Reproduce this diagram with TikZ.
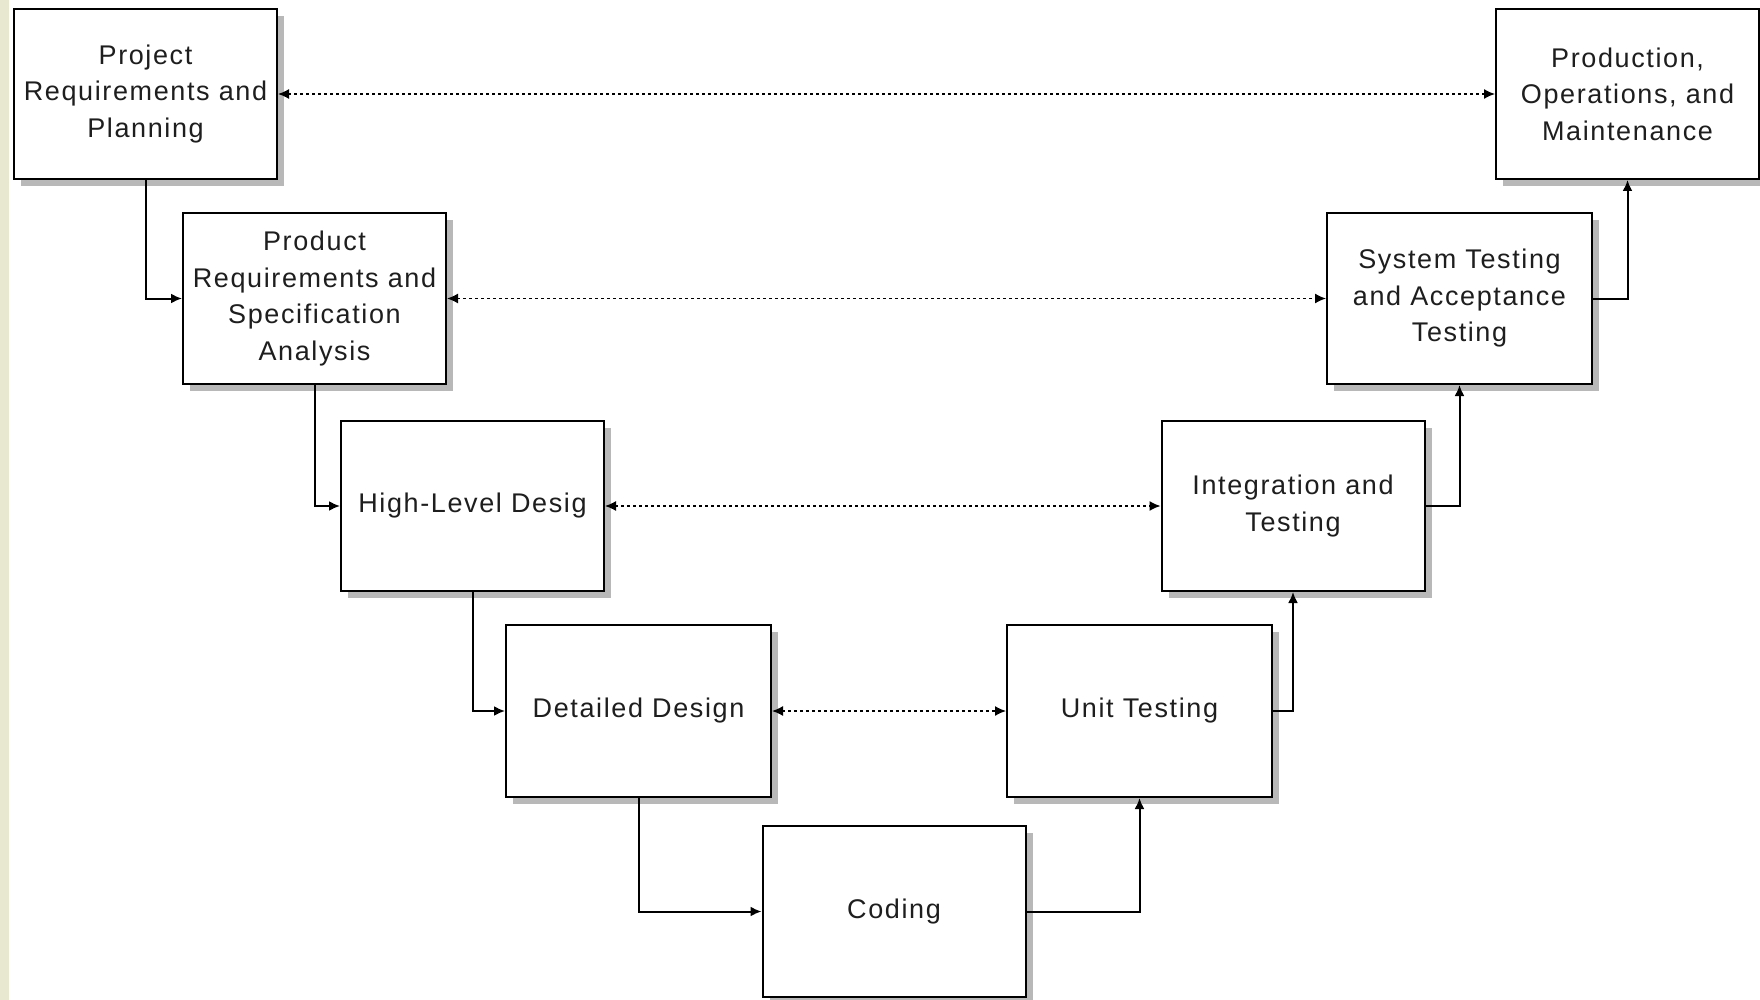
\documentclass[tikz,border=0pt]{standalone}
\usepackage{fontspec}
\setmainfont{Liberation Sans}[LetterSpace=6.0]
\usetikzlibrary{arrows.meta,shadows}
\definecolor{stripcol}{RGB}{232,232,208}
\definecolor{shadowcol}{RGB}{184,184,184}
\definecolor{textcol}{RGB}{30,30,30}
\begin{document}
\begin{tikzpicture}[x=1pt,y=-1pt,
  phase/.style={draw=black, line width=2pt, fill=white, minimum width=263pt, minimum height=170pt,
    inner sep=0pt, align=center, text=textcol, font=\fontsize{27}{36.5}\selectfont,
    drop shadow={shadow xshift=7pt, shadow yshift=-7pt, fill=shadowcol, draw=none, opacity=1}},
  flow/.style={line width=2pt, -{Latex[length=11pt,width=10pt]}},
  link/.style={line width=1.4pt, dash pattern=on 3pt off 3pt, {Latex[length=11pt,width=10pt]}-{Latex[length=11pt,width=10pt]}}]
\useasboundingbox (0,0) rectangle (1760,1000);
\fill[white] (0,0) rectangle (1760,1000);
\fill[stripcol] (0,0) rectangle (9,1000);
\node[phase] (p1) at (145.5,94) {Project\\Requirements and\\Planning};
\node[phase, minimum height=171pt] (p2) at (314.5,298.5) {Product\\Requirements and\\Specification\\Analysis};
\node[phase] (p3) at (472.5,506) {High-Level Desig};
\node[phase, minimum width=265pt, minimum height=172pt] (p4) at (638.5,711) {Detailed Design};
\node[phase, minimum height=171pt] (p5) at (894,911.5) {Coding};
\node[phase, minimum width=265pt, minimum height=172pt] (p6) at (1139.5,711) {Unit Testing};
\node[phase] (p7) at (1293,506) {Integration and\\Testing};
\node[phase, minimum width=265pt, minimum height=171pt] (p8) at (1459.5,298.5) {System Testing\\and Acceptance\\Testing};
\node[phase] (p9) at (1627.5,94) {Production,\\Operations, and\\Maintenance};
\draw[flow] (p1.south) |- (p2.west);
\draw[flow] (p2.south) |- (p3.west);
\draw[flow] (p3.south) |- (p4.west);
\draw[flow] (p4.south) |- (p5.west);
\draw[flow] (p5.east) -| (p6.south);
\draw[flow] (p6.east) -| (p7.south);
\draw[flow] (p7.east) -| (p8.south);
\draw[flow] (p8.east) -| (p9.south);
\draw[link] (p1.east) -- (p9.west);
\draw[link] (p2.east) -- (p8.west);
\draw[link] (p3.east) -- (p7.west);
\draw[link] (p4.east) -- (p6.west);
\end{tikzpicture}
\end{document}
